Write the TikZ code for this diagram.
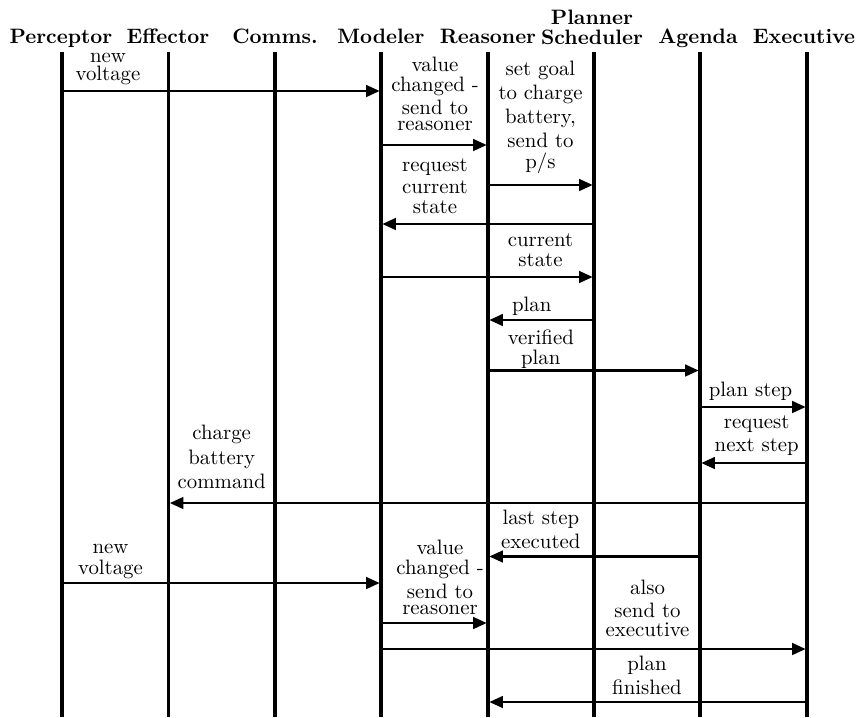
\documentclass[tikz,border=0pt]{standalone}
\usetikzlibrary{arrows.meta}
\begin{document}
\begin{tikzpicture}[x=0.48pt,y=-0.48pt,
  head/.style={font=\bfseries, anchor=base, inner sep=0pt, align=center},
  life/.style={line width=1.5pt},
  msg/.style={line width=1.3pt, shorten >=0.6pt, -{Triangle[length=6.5pt,width=5.5pt]}},
  lbl/.style={anchor=base, inner sep=0pt, align=center}]
\useasboundingbox (0,0) rectangle (860,717);

% lifeline tops
\coordinate (P) at (62,52);
\coordinate (E) at (168.5,52);
\coordinate (C) at (275,52);
\coordinate (M) at (381,52);
\coordinate (R) at (488,52);
\coordinate (S) at (594,52);
\coordinate (A) at (700,52);
\coordinate (X) at (807,52);

% column headings (anchored at the baseline of their last line)
\node[head] (hP) at (61,44) {Perceptor};
\node[head] (hE) at (168,44) {Effector};
\node[head] (hC) at (275,44) {Comms.};
\node[head] (hM) at (381,44) {Modeler};
\node[head] (hR) at (488,44) {Reasoner};
\node[head] (hS) at (592,44.3) {Planner\\[-2.4pt]Scheduler};
\node[head] (hA) at (698,44) {Agenda};
\node[head] (hX) at (804,44) {Executive};

% lifelines
\foreach \l in {P,E,C,M,R,S,A,X}
  \draw[life] (\l) -- (\l |- 0,717);

% messages
\draw[msg] (P |- 0,91)    -- (M |- 0,91);
\draw[msg] (M |- 0,145)   -- (R |- 0,145);
\draw[msg] (R |- 0,185)   -- (S |- 0,185);
\draw[msg] (S |- 0,224)   -- (M |- 0,224);
\draw[msg] (M |- 0,277)   -- (S |- 0,277);
\draw[msg] (S |- 0,320)   -- (R |- 0,320);
\draw[msg] (R |- 0,370.5) -- (A |- 0,370.5);
\draw[msg] (A |- 0,407)   -- (X |- 0,407);
\draw[msg] (X |- 0,463)   -- (A |- 0,463);
\draw[msg] (X |- 0,503)   -- (E |- 0,503);
\draw[msg] (A |- 0,556.5) -- (R |- 0,556.5);
\draw[msg] (P |- 0,583)   -- (M |- 0,583);
\draw[msg] (M |- 0,623)   -- (R |- 0,623);
\draw[msg] (M |- 0,649)   -- (X |- 0,649);
\draw[msg] (X |- 0,702)   -- (R |- 0,702);

% message labels (anchored at the baseline of their last line)
\node[lbl] (l1)  at (108,81)     {new\\[-2.9pt]voltage};
\node[lbl] (l2)  at (435,130.7)  {value\\[-2.4pt]changed -\\[-1.2pt]send to\\[-4.1pt]reasoner};
\node[lbl] (l3)  at (540.5,168.3){set goal\\[-0.5pt]to charge\\[-0.5pt]battery,\\[-0.5pt]send to\\[-1.9pt]p/s};
\node[lbl] (l4)  at (435,213.3)  {request\\[-1.3pt]current\\[-2.7pt]state};
\node[lbl] (l5)  at (540.5,266)  {current\\[-2.7pt]state};
\node[lbl] (l6)  at (531.7,311.7){plan};
\node[lbl] (l7)  at (540.8,364)  {verified\\[-2.4pt]plan};
\node[lbl] (l8)  at (750.5,396.7){plan step};
\node[lbl] (l9)  at (756.7,451.7){request\\[-0.8pt]next step};
\node[lbl] (l10) at (221.7,488.3){charge\\[0.1pt]battery\\[-0.5pt]command};
\node[lbl] (l11) at (540.8,548.3){last step\\[-0.8pt]executed};
\node[lbl] (l12) at (110.5,574.3){new\\[-1.9pt]voltage};
\node[lbl] (l13) at (440,614.3)  {value\\[-2.4pt]changed -\\[-0.4pt]send to\\[-4.3pt]reasoner};
\node[lbl] (l14) at (647.5,636.7){also\\[-1pt]send to\\[-2.7pt]executive};
\node[lbl] (l15) at (647,694)    {plan\\[-0.5pt]finished};
\end{tikzpicture}
\end{document}
